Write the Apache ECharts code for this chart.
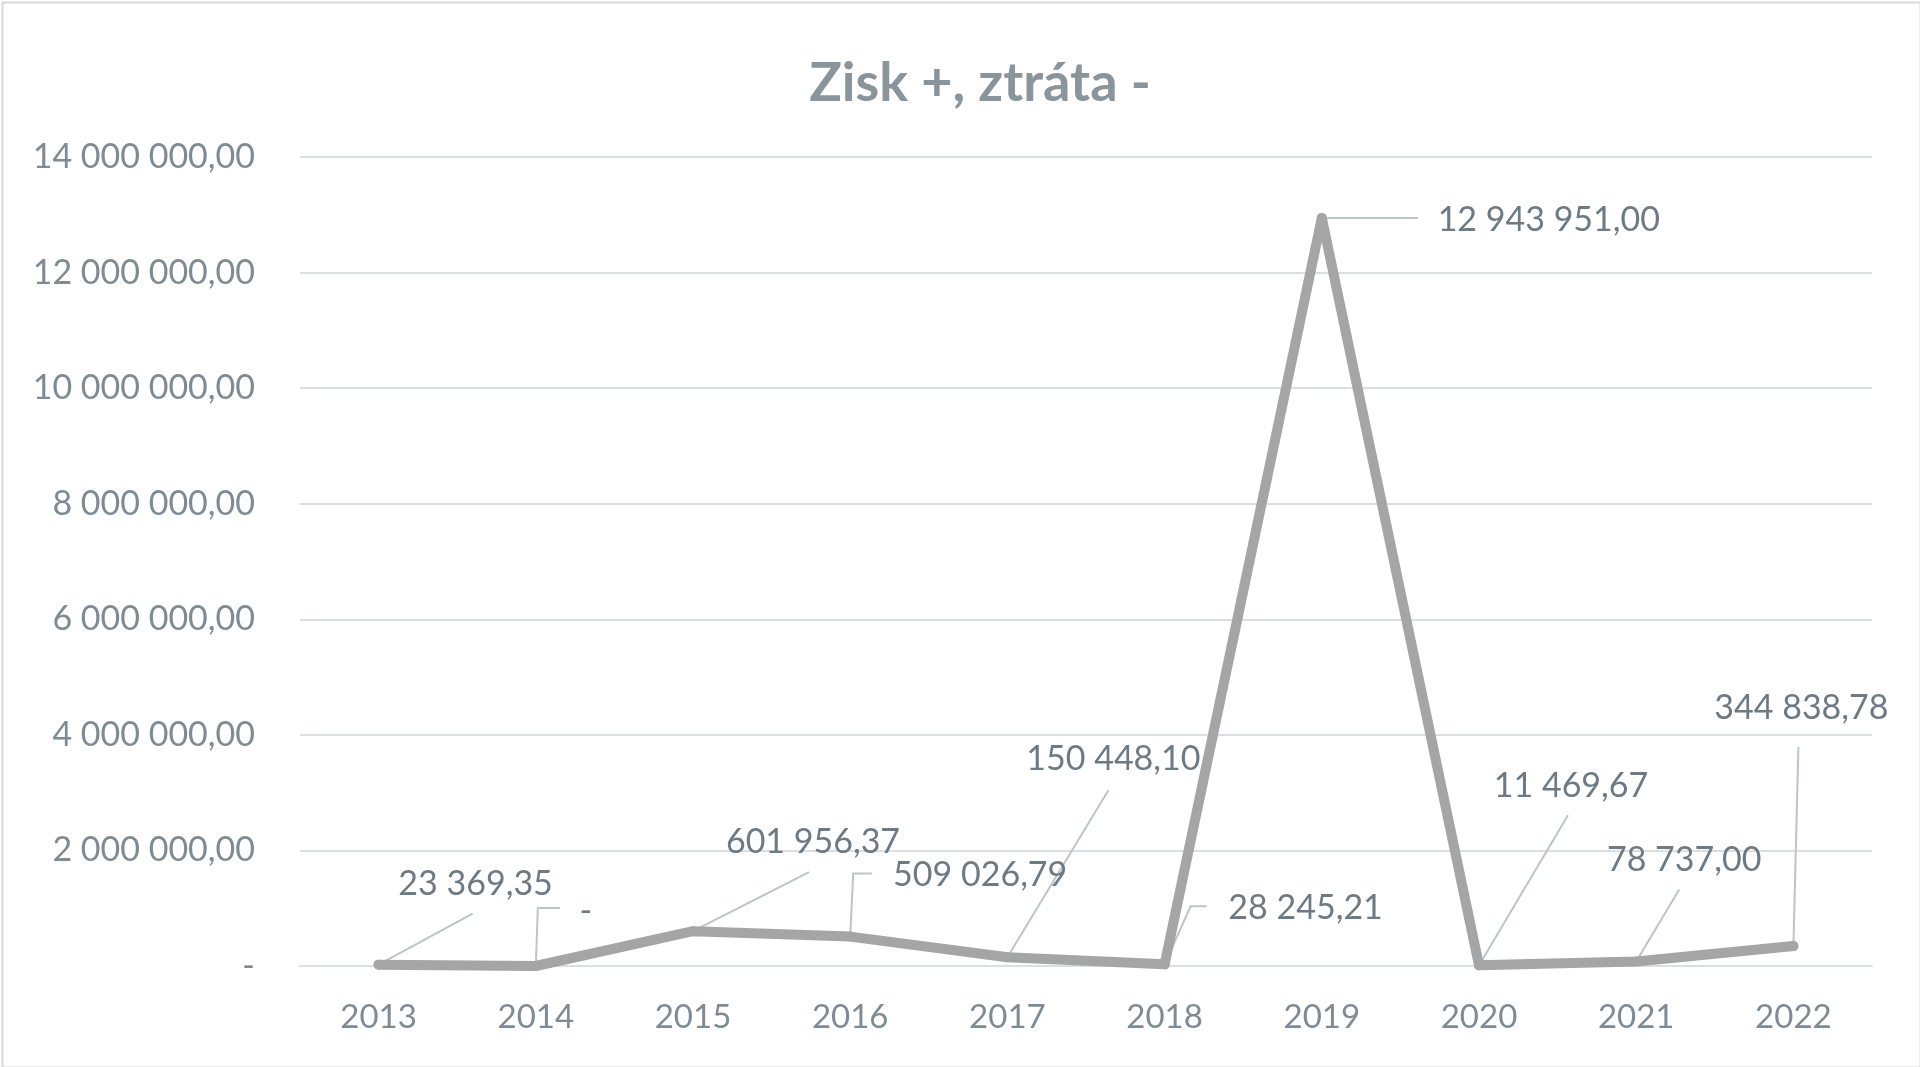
<!DOCTYPE html>
<html>
<head>
<meta charset="utf-8">
<script src="https://cdn.jsdelivr.net/npm/echarts@6/dist/echarts.min.js"></script>
<style>
html,body{margin:0;padding:0;background:#fff;}
#chart{width:1920px;height:1067px;}
</style>
</head>
<body>
<div id="chart"></div>
<script>
const titleText = 'Zisk +, ztráta -';
const years = ['2013','2014','2015','2016','2017','2018','2019','2020','2021','2022'];
const profit = [23369.35, 0, 601956.37, 509026.79, 150448.10, 28245.21, 12943951.00, 11469.67, 78737.00, 344838.78];
const yMin = 0, yMax = 14000000, yStep = 2000000;
// label offsets relative to each point (style only)
const labelOffsets = [[97,-81],[50,-55],[120,-89],[130,-62],[106,-198],[141,-56],[227,2],[92,-179],[48,-101],[8,-238]];
// leader-line bends relative to each point (style only)
const leaderBends = [
  [[94,-51]],
  [[2,-58],[24,-58]],
  [[116,-59]],
  [[3,-63],[22,-63]],
  [[101,-167]],
  [[26,-58],[42,-58]],
  [[96,0]],
  [[89,-150]],
  [[43,-72]],
  [[5,-199]]
];

function fmt(v){
  if (v === 0) return '-';
  const parts = v.toFixed(2).split('.');
  const intPart = parts[0].replace(/\B(?=(\d{3})+(?!\d))/g, ' ');
  return intPart + ',' + parts[1];
}

const chart = echarts.init(document.getElementById('chart'));
const FONT = 'Lato';
chart.setOption({
  backgroundColor: '#ffffff',
  animation: false,
  title: {
    text: titleText,
    left: 980,
    textAlign: 'center',
    top: 57,
    padding: 0,
    textStyle: { fontFamily: FONT, fontWeight: 'bold', fontSize: 54, color: '#89949b' }
  },
  graphic: [{
    type: 'rect', left: 0, top: 0, z: -10,
    shape: { width: 1918, height: 1065 },
    style: { fill: 'none', stroke: '#d9d9d9', lineWidth: 2 }
  }],
  grid: { left: 300, right: 48, top: 157, bottom: 101 },
  xAxis: {
    type: 'category',
    data: years,
    boundaryGap: true,
    axisLine: { show: true, lineStyle: { color: '#dcdfe2', width: 2 } },
    axisTick: { show: false },
    axisLabel: { fontFamily: FONT, fontSize: 33, color: '#7f8b93', margin: 35 }
  },
  yAxis: {
    type: 'value',
    min: yMin, max: yMax, interval: yStep,
    axisLine: { show: false },
    axisTick: { show: false },
    splitLine: { lineStyle: { color: '#dcdfe2', width: 2 } },
    axisLabel: { fontFamily: FONT, fontSize: 34, color: '#7f8b93', margin: 45, formatter: fmt }
  },
  series: [{
    type: 'custom',
    data: profit.map((v, i) => [i, v]),
    encode: { x: 0, y: 1 },
    z: 2,
    silent: true,
    renderItem: function (params, api) {
      const i = params.dataIndex;
      const p = api.coord([api.value(0), api.value(1)]);
      const pts = [p].concat(leaderBends[i].map(o => [p[0] + o[0], p[1] + o[1]]));
      return {
        type: 'polyline',
        shape: { points: pts },
        style: { stroke: '#bcc5c9', lineWidth: 2, fill: null }
      };
    }
  }, {
    type: 'line',
    data: profit.map((v, i) => ({
      value: v,
      label: { offset: labelOffsets[i] }
    })),
    symbol: 'circle',
    symbolSize: 10,
    itemStyle: { color: '#a5a5a5' },
    lineStyle: { color: '#a5a5a5', width: 10, cap: 'round', join: 'round' },
    label: {
      show: true,
      position: 'inside',
      fontFamily: FONT,
      fontSize: 34,
      color: '#6d7a83',
      formatter: p => fmt(p.value)
    },
    z: 3
  }]
});
</script>
</body>
</html>
